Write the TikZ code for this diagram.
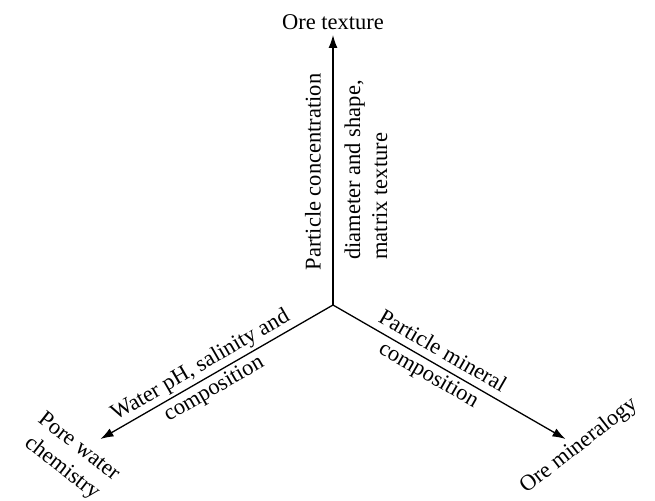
\documentclass[tikz,border=0pt]{standalone}
\usepackage{fontspec}
\setmainfont{Liberation Serif}
\usetikzlibrary{arrows.meta}
\tikzset{
  axis/.style={line width=1.3pt, -{Latex[length=13pt,width=9pt]}},
  lbl/.style={inner sep=0pt, font=\fontsize{22.5}{27}\selectfont},
}
\begin{document}
\begin{tikzpicture}[x=1pt,y=-1pt]
\useasboundingbox (0,0) rectangle (655,500);
\coordinate (O) at (333,305);
\coordinate (T) at (333,35);
\coordinate (L) at (100.5,439);
\coordinate (R) at (565.5,439);
\draw[axis] (O) -- (T);
\draw[axis] (O) -- (L);
\draw[axis] (O) -- (R);
\node[lbl, anchor=base] (ot) at (333,30) {Ore texture};
\node[lbl, rotate=90] (pc) at (313,172) {Particle concentration};
\node[lbl, rotate=90, align=left] (ds) at (366,170) {diameter and shape,\\matrix texture};
\node[lbl, rotate=30, align=center] (wp) at (207.4,377.5) {Water pH, salinity and\\composition};
\node[lbl, rotate=-30, align=center] (pm) at (435.2,364) {Particle mineral\\composition};
\node[lbl, rotate=-38, align=center] (pw) at (70,458) {Pore water\\chemistry};
\node[lbl, rotate=38] (om) at (579,446) {Ore mineralogy};
\end{tikzpicture}
\end{document}
